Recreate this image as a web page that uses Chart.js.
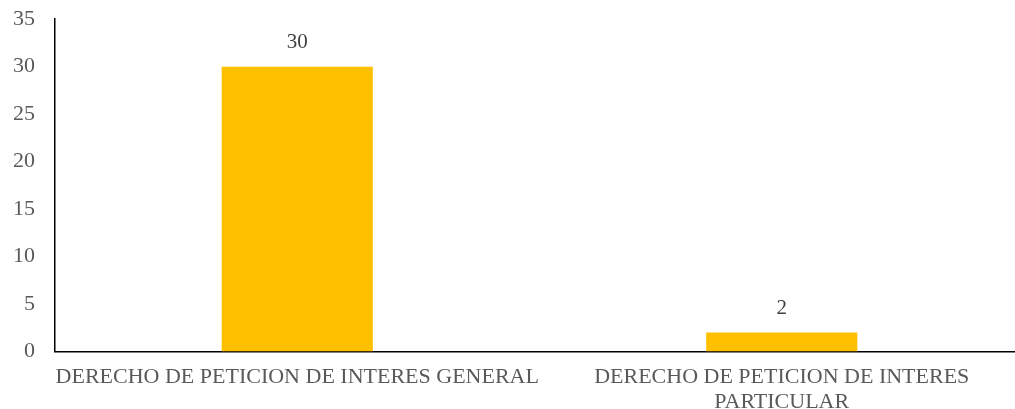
<!DOCTYPE html>
<html>
<head>
<meta charset="utf-8">
<script src="https://cdn.jsdelivr.net/npm/chart.js@4"></script>
<style>
  html, body { margin: 0; padding: 0; background: #fff; overflow: hidden; }
  #wrap { width: 1024px; height: 428px; position: relative; top: -14px; }
</style>
</head>
<body>
<div id="wrap"><canvas id="chart" width="1024" height="428"></canvas></div>
<script>
const categories = [
    'DERECHO DE PETICION DE INTERES GENERAL',
    ['DERECHO DE PETICION DE INTERES', 'PARTICULAR']
];
const values = [30, 2];
const yTicks = [0, 5, 10, 15, 20, 25, 30, 35];

const textColor = '#595959';
const fontFamily = '"Liberation Serif", "DejaVu Serif", serif';

// simple value labels above each bar
const valueLabels = {
    id: 'valueLabels',
    afterDatasetsDraw(chart) {
        const ctx = chart.ctx;
        const meta = chart.getDatasetMeta(0);
        ctx.save();
        ctx.fillStyle = '#404040';
        ctx.font = '21px ' + fontFamily;
        ctx.textAlign = 'center';
        ctx.textBaseline = 'middle';
        meta.data.forEach((bar, i) => {
            ctx.fillText(String(values[i]), bar.x, bar.y - 24);
        });
        ctx.restore();
    }
};

new Chart(document.getElementById('chart'), {
    type: 'bar',
    data: {
        labels: categories,
        datasets: [{
            data: values,
            backgroundColor: '#FFC000',
            barPercentage: 0.312,
            categoryPercentage: 1
        }]
    },
    options: {
        responsive: false,
        animation: false,
        layout: { padding: { top: -18, left: -7, right: 0, bottom: -14 } },
        plugins: { legend: { display: false }, tooltip: { enabled: false } },
        scales: {
            x: {
                grid: { display: false, drawTicks: false },
                border: { color: '#000', width: 1.5 },
                ticks: {
                    color: textColor,
                    font: { family: fontFamily, size: 22, lineHeight: 1.1 },
                    padding: 14,
                    maxRotation: 0,
                    autoSkip: false
                }
            },
            y: {
                min: 0,
                max: 35,
                afterBuildTicks(axis) { axis.ticks = yTicks.map(v => ({ value: v })); },
                grid: { display: false, drawTicks: false },
                border: { color: '#000', width: 1.5 },
                ticks: {
                    color: textColor,
                    font: { family: fontFamily, size: 22 },
                    padding: 20
                }
            }
        }
    },
    plugins: [valueLabels]
});
</script>
</body>
</html>
